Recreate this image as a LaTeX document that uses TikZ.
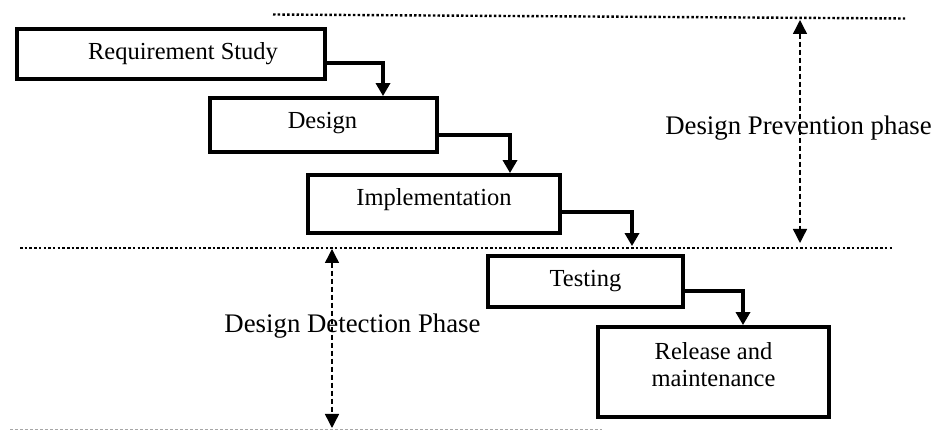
\documentclass[tikz,border=0pt]{standalone}
\usepackage{fontspec}
\setmainfont{Liberation Serif}
\usetikzlibrary{arrows.meta}
\tikzset{
  stagebox/.style={draw=black, line width=3.8pt, rectangle, inner sep=0pt, fill=white},
  lbl/.style={font=\fontsize{24.5}{27}\selectfont, inner sep=0pt, align=center},
  phaselbl/.style={font=\fontsize{26.8}{30}\selectfont, inner sep=0pt},
  conn/.style={line width=3.3pt, -{Triangle[width=14pt,length=13pt]}},
  phasearrow/.style={line width=1.4pt, dash pattern=on 5pt off 3pt, {Triangle[width=14pt,length=14pt]}-{Triangle[width=14pt,length=14pt]}},
  sepline/.style={line width=2.4pt, dash pattern=on 2.5pt off 2.2pt},
  lightline/.style={line width=1pt, gray!70, dash pattern=on 3pt off 2pt}
}
\begin{document}
\begin{tikzpicture}[x=1pt,y=-1pt]
\useasboundingbox (0,0) rectangle (935,430);
% separator lines
\coordinate (t1) at (273,14.5);
\coordinate (t2) at (905,18.5);
\coordinate (m1) at (20,248);
\coordinate (m2) at (893,248);
\coordinate (b1) at (10,429);
\coordinate (b2) at (602,429);
\draw[sepline] (t1) -- (t2);
\draw[sepline] (m1) -- (m2);
\draw[lightline] (b1) -- (b2);
% stage boxes
\node[stagebox, minimum width=308pt, minimum height=50pt,
  label={[lbl,xshift=12pt]center:Requirement Study}] (req) at (171,54) {};
\node[stagebox, minimum width=227pt, minimum height=54pt,
  label={[lbl,xshift=-1pt,yshift=1.5pt]center:Design}] (des) at (323.5,125) {};
\node[stagebox, minimum width=252pt, minimum height=58pt,
  label={[lbl,yshift=4pt]center:Implementation}] (imp) at (434,204) {};
\node[stagebox, minimum width=195pt, minimum height=51pt,
  label={[lbl]center:Testing}] (tst) at (585.5,281.5) {};
\node[stagebox, minimum width=231pt, minimum height=90pt,
  label={[lbl,yshift=7pt]center:Release and\\maintenance}] (rel) at (713.5,372) {};
% connectors
\draw[conn] ([yshift=-9pt]req.east) -| ([xshift=59.5pt]des.north);
\draw[conn] ([yshift=-10pt]des.east) -| ([xshift=76pt]imp.north);
\draw[conn, shorten >=8pt] ([yshift=-8pt]imp.east) -| ([xshift=46.5pt]tst.north);
\draw[conn] ([yshift=-9.5pt]tst.east) -| ([xshift=29.5pt]rel.north);
% phase arrows
\coordinate (pa1) at (800,20);
\coordinate (pa2) at (800,243);
\coordinate (da1) at (332,249);
\coordinate (da2) at (332,428);
\draw[phasearrow] (pa1) -- (pa2);
\draw[phasearrow] (da1) -- (da2);
\node[phaselbl] (prev) at (798.5,128) {Design Prevention phase};
\node[phaselbl] (detc) at (352.5,326) {Design Detection Phase};
\end{tikzpicture}
\end{document}
